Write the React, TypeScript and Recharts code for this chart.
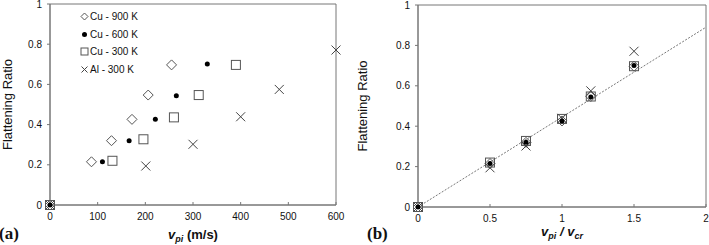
import {
  Label,
  Legend,
  ReferenceArea,
  ReferenceLine,
  Scatter,
  ScatterChart,
  XAxis,
  YAxis,
} from "recharts";

const FONT = "Arial, 'Liberation Sans', Helvetica, sans-serif";

// impact velocity (m/s) per material, chart (a)
const vpiCu900 = [0, 87, 129, 172, 206, 255];
const vpiCu600 = [0, 110, 166, 221, 265, 330];
const vpiCu300 = [0, 131, 196, 260, 312, 390];
const vpiAl300 = [0, 201, 300, 400, 481, 600];

// flattening ratio per material
const frCu900 = [0, 0.215, 0.32, 0.426, 0.547, 0.697];
const frCu600 = [0, 0.215, 0.32, 0.426, 0.544, 0.701];
const frCu300 = [0, 0.22, 0.327, 0.436, 0.547, 0.697];
const frAl300 = [0, 0.194, 0.302, 0.439, 0.575, 0.771];

// normalized velocity vpi / vcr, chart (b)
const ratio = [0, 0.5, 0.75, 1, 1.2, 1.5];

// fitted line in (b)
const trendX = [0, 2];
const trendY = [0, 0.89];

const ticksA = [0, 100, 200, 300, 400, 500, 600];
const ticksB = [0, 0.5, 1, 1.5, 2];
const ticksY = [0, 0.2, 0.4, 0.6, 0.8, 1];

const MARK = "#555";

const Diamond = ({ cx, cy, r = 5 }: any) => (
  <path
    d={`M${cx},${cy - r}L${cx + r},${cy}L${cx},${cy + r}L${cx - r},${cy}Z`}
    fill="none"
    stroke={MARK}
    strokeWidth={1}
  />
);
const Dot = ({ cx, cy, r = 2.5 }: any) => <circle cx={cx} cy={cy} r={r} fill="#000" />;
const Square = ({ cx, cy, r = 4.5 }: any) => (
  <rect x={cx - r} y={cy - r} width={r * 2} height={r * 2} fill="none" stroke={MARK} strokeWidth={1} />
);
const Cross = ({ cx, cy, r = 4.5 }: any) => (
  <path
    d={`M${cx - r},${cy - r}L${cx + r},${cy + r}M${cx + r},${cy - r}L${cx - r},${cy + r}`}
    stroke="#444"
    strokeWidth={1}
  />
);

// draw order: squares, diamonds, crosses, dots on top
const series = [
  { name: "Cu - 300 K", vpi: vpiCu300, fr: frCu300, Shape: Square, legendR: 3.5, order: 2 },
  { name: "Cu - 900 K", vpi: vpiCu900, fr: frCu900, Shape: Diamond, legendR: 3.5, order: 0 },
  { name: "Al - 300 K", vpi: vpiAl300, fr: frAl300, Shape: Cross, legendR: 3, order: 3 },
  { name: "Cu - 600 K", vpi: vpiCu600, fr: frCu600, Shape: Dot, legendR: 2.5, order: 1 },
];

const legendItems = [...series].sort((a, b) => a.order - b.order);

const LegendBox = () => (
  <div style={{ fontFamily: FONT, fontSize: 10, color: "#111", lineHeight: "17.6px" }}>
    {legendItems.map((s) => (
      <div key={s.name} style={{ display: "flex", alignItems: "center", whiteSpace: "nowrap" }}>
        <svg width={9} height={9} style={{ marginRight: 1 }}>
          <s.Shape cx={4.5} cy={4.5} r={s.legendR} />
        </svg>
        <span>{s.name}</span>
      </div>
    ))}
  </div>
);

const yTitle = (props: any) => {
  const { x, y, height } = props.viewBox;
  const tx = x + 11.5;
  const ty = y + height / 2;
  return (
    <text
      x={tx}
      y={ty}
      transform={`rotate(-90 ${tx} ${ty})`}
      textAnchor="middle"
      fontFamily={FONT}
      fontSize={13}
      fill="#111"
    >
      Flattening Ratio
    </text>
  );
};

const xTitleA = (props: any) => {
  const { x, y, width } = props.viewBox;
  return (
    <text x={x + width / 2} y={y + 34} textAnchor="middle" fontFamily={FONT} fontSize={13} fontWeight="bold" fill="#111">
      <tspan fontStyle="italic">v</tspan>
      <tspan fontStyle="italic" fontSize={9} dy={3}>pi</tspan>
      <tspan dy={-3}> (m/s)</tspan>
    </text>
  );
};

const xTitleB = (props: any) => {
  const { x, y, width } = props.viewBox;
  return (
    <text x={x + width / 2} y={y + 29} textAnchor="middle" fontFamily={FONT} fontSize={13} fontWeight="bold" fontStyle="italic" fill="#111">
      <tspan>v</tspan>
      <tspan fontSize={9} dy={3}>pi</tspan>
      <tspan dy={-3}> / v</tspan>
      <tspan fontSize={9} dy={3}>cr</tspan>
    </text>
  );
};

const tickStyle = { fontFamily: FONT, fontSize: 10, fill: "#111" };
const AXIS = "#777";

const panelLabel = (text: string, left: number) => (
  <span
    style={{
      position: "absolute",
      left,
      top: 224,
      fontFamily: "'Liberation Serif', 'Times New Roman', serif",
      fontWeight: "bold",
      fontSize: 17,
      color: "#111",
    }}
  >
    {text}
  </span>
);

export default function App() {
  return (
    <div style={{ position: "absolute", left: 0, top: 0, width: 709, height: 245, background: "#fff", overflow: "hidden" }}>
      <div style={{ position: "absolute", left: 0, top: 0 }}>
        <ScatterChart width={345} height={245} margin={{ top: 4, right: 9, bottom: 0, left: 0 }}>
          <XAxis
            type="number"
            dataKey="x"
            domain={[0, 600]}
            ticks={ticksA}
            height={40}
            tick={tickStyle}
            tickSize={-3}
            tickMargin={11}
            tickLine={{ stroke: AXIS }}
            axisLine={{ stroke: AXIS }}
            interval={0}
          >
            <Label content={xTitleA} />
          </XAxis>
          <YAxis
            type="number"
            dataKey="y"
            domain={[0, 1]}
            ticks={ticksY}
            width={50}
            tick={tickStyle}
            tickSize={3}
            tickMargin={5}
            tickLine={{ stroke: AXIS }}
            axisLine={{ stroke: AXIS }}
            interval={0}
          >
            <Label content={yTitle} />
          </YAxis>
          <ReferenceArea x1={0} x2={600} y1={0} y2={1} fill="none" stroke={AXIS} strokeWidth={1} />
          {series.map((s) => (
            <Scatter
              key={s.name}
              name={s.name}
              data={s.vpi.map((v, i) => ({ x: v, y: s.fr[i] }))}
              shape={(p: any) => <s.Shape cx={p.cx} cy={p.cy} />}
              isAnimationActive={false}
            />
          ))}
          <Legend
            layout="vertical"
            align="center"
            verticalAlign="middle"
            content={() => <LegendBox />}
            wrapperStyle={{ left: 80, top: 8, width: "auto", height: "auto" }}
          />
        </ScatterChart>
      </div>

      <div style={{ position: "absolute", left: 355, top: 0 }}>
        <ScatterChart width={354} height={245} margin={{ top: 5, right: 3, bottom: 0, left: 0 }}>
          <XAxis
            type="number"
            dataKey="x"
            domain={[0, 2]}
            ticks={ticksB}
            height={38}
            tick={tickStyle}
            tickSize={-3}
            tickMargin={11}
            tickLine={{ stroke: AXIS }}
            axisLine={{ stroke: AXIS }}
            interval={0}
          >
            <Label content={xTitleB} />
          </XAxis>
          <YAxis
            type="number"
            dataKey="y"
            domain={[0, 1]}
            ticks={ticksY}
            width={63}
            tick={tickStyle}
            tickSize={3}
            tickMargin={5}
            tickLine={{ stroke: AXIS }}
            axisLine={{ stroke: AXIS }}
            interval={0}
          >
            <Label content={yTitle} />
          </YAxis>
          <ReferenceArea x1={0} x2={2} y1={0} y2={1} fill="none" stroke={AXIS} strokeWidth={1} />
          <ReferenceLine
            segment={[
              { x: trendX[0], y: trendY[0] },
              { x: trendX[1], y: trendY[1] },
            ]}
            stroke="#777"
            strokeWidth={1}
            strokeDasharray="2 1.5"
          />
          {series.map((s) => (
            <Scatter
              key={s.name}
              name={s.name}
              data={ratio.map((v, i) => ({ x: v, y: s.fr[i] }))}
              shape={(p: any) => <s.Shape cx={p.cx} cy={p.cy} />}
              isAnimationActive={false}
            />
          ))}
        </ScatterChart>
      </div>

      {panelLabel("(a)", -1)}
      {panelLabel("(b)", 367)}
    </div>
  );
}
